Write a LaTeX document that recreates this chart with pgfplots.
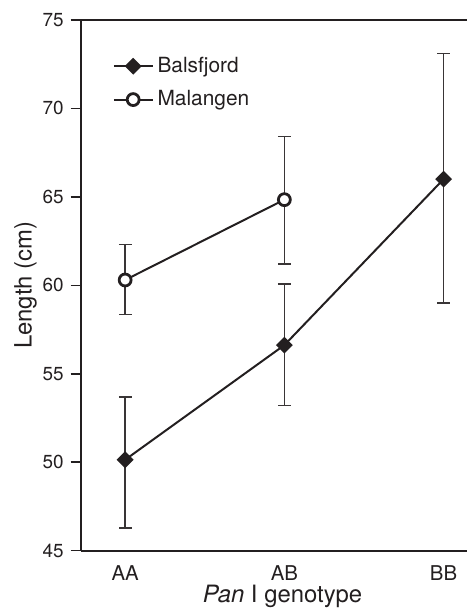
\documentclass[border=0pt]{standalone}
\usepackage{pgfplots}
\pgfplotsset{compat=1.18}
\usepackage{fontspec}
\setmainfont{TeX Gyre Heros}
\definecolor{ink}{HTML}{231F20}
\begin{document}
\begin{tikzpicture}
\begin{axis}[
  scale only axis,
  width=194.5pt, height=266.85pt,
  xmin=-0.28, xmax=2.15,
  ymin=45, ymax=75,
  axis lines*=left,
  axis line style={line width=1pt, color=ink},
  xtick={0,1,2}, xticklabels={AA,AB,BB},
  ytick={45,50,...,75},
  tick align=outside,
  major tick length=5pt,
  x tick style={draw=none},
  y tick style={line width=0.75pt, color=ink},
  /pgf/number format/assume math mode=true,
  yticklabel style={font=\fontsize{9.5}{11}\selectfont, color=ink},
  xticklabel style={font=\fontsize{10.25}{12}\selectfont, color=ink, anchor=base, inner sep=0pt, yshift=-10.15pt},
  xlabel={\textit{Pan} I genotype},
  ylabel={Length (cm)},
  xlabel style={font=\fontsize{12}{14}\selectfont, color=ink, inner sep=0pt, at={(axis description cs:0.522,-0.098)}, anchor=base},
  ylabel style={font=\fontsize{12}{14}\selectfont, color=ink, at={(axis description cs:-0.1267,0.5)}, anchor=base},
  clip=false,
  legend style={at={(axis description cs:0,1)}, anchor=north west, draw=none, fill=none,
    inner sep=0pt, xshift=16pt, yshift=-16.5pt, font=\fontsize{10.5}{12}\selectfont, text=ink, row sep=3.6pt},
  legend cell align=left,
  legend image code/.code={\draw[mark repeat=2,mark phase=2,#1] plot coordinates {(0pt,0pt) (9.75pt,0pt) (19.5pt,0pt)};},
  /tikz/every even column/.append style={column sep=1.5pt},
]
\coordinate (bl) at (rel axis cs:0,0);
\coordinate (tr) at (rel axis cs:1,1);
\draw[line width=1pt, color=ink] (rel axis cs:0,1) -- (rel axis cs:1,1);
\addplot[color=ink, line width=1pt, mark=square*, mark size=2.5pt, mark options={rotate=45, fill=ink, solid},
  error bars/.cd, y dir=both, y explicit, error mark options={rotate=90, mark size=3.2pt, line width=0.75pt, color=ink!90},
  error bar style={line width=0.75pt, color=ink!90}]
  coordinates {
    (0,50.14) += (0,3.56) -= (0,3.86)
    (1,56.62) += (0,3.45) -= (0,3.42)
    (2,66.0)  += (0,7.1)  -= (0,7.0)
  };
\addlegendentry{Balsfjord}
\addplot[color=ink, line width=1pt, mark=*, mark size=3pt, mark options={fill=white, line width=1.4pt, solid},
  error bars/.cd, y dir=both, y explicit, error mark options={rotate=90, mark size=3.2pt, line width=0.75pt, color=ink!90},
  error bar style={line width=0.75pt, color=ink!90}]
  coordinates {
    (0,60.3)  += (0,2.0)  -= (0,1.94)
    (1,64.84) += (0,3.56) -= (0,3.64)
  };
\addlegendentry{Malangen}
\end{axis}
\pgfresetboundingbox
\path ([xshift=-40.5pt,yshift=-28.8pt]bl) rectangle ([yshift=10pt]tr);
\end{tikzpicture}
\end{document}
